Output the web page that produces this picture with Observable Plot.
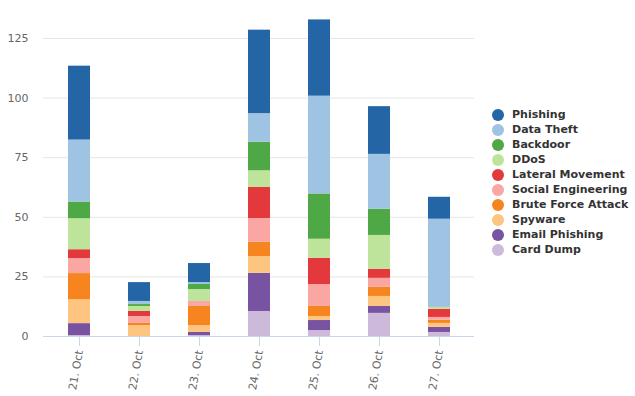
<!DOCTYPE html>
<html>
<head>
<meta charset="utf-8">
<script src="https://cdn.jsdelivr.net/npm/d3@7"></script>
<script src="https://cdn.jsdelivr.net/npm/@observablehq/plot@0.6"></script>
<style>
  html, body { margin: 0; padding: 0; background: #fff; }
  #wrap { position: relative; width: 635px; height: 396px; font-family: "DejaVu Sans", Verdana, sans-serif; }
  #legend { position: absolute; left: 492px; top: 107px; }
  .item { display: flex; align-items: center; height: 15px; font-weight: bold; font-size: 11px; color: #333; white-space: nowrap; }
  .sw { width: 12px; height: 12px; border-radius: 50%; margin-right: 8px; flex: none; }
</style>
</head>
<body>
<div id="wrap"><div id="legend"></div></div>
<script>
// Categories (x axis)
const dates = ["21. Oct", "22. Oct", "23. Oct", "24. Oct", "25. Oct", "26. Oct", "27. Oct"];
// Series names in legend order (top of stack first)
const seriesNames = ["Phishing", "Data Theft", "Backdoor", "DDoS", "Lateral Movement",
  "Social Engineering", "Brute Force Attack", "Spyware", "Email Phishing", "Card Dump"];
const seriesColors = ["#2465a5", "#9fc3e3", "#4ea845", "#bee39b", "#e4393c",
  "#faa7a3", "#f7851f", "#fdc580", "#7853a1", "#cdb9d9"];
// Values per series, one per date
const phishing          = [31, 7.9, 8, 35, 32, 20, 9.2];
const dataTheft         = [26, 1.3, 0.8, 12, 41, 23, 37];
const backdoor          = [7, 0.8, 2.1, 12, 19, 11, 0];
const ddos              = [13, 2.1, 5, 7, 8, 14.2, 0.8];
const lateralMovement   = [3.7, 2.1, 0, 13, 11, 3.8, 3.4];
const socialEngineering = [6.3, 2.9, 2.1, 10, 9.2, 3.8, 1.2];
const bruteForce        = [11, 0.9, 8, 6, 4.2, 3.8, 1.3];
const spyware           = [10, 4.6, 2.9, 7, 1.7, 4.2, 1.7];
const emailPhishing     = [5, 0, 1.3, 16, 4.2, 2.9, 2.1];
const cardDump          = [0.4, 0, 0.4, 10.5, 2.5, 9.7, 1.7];
const yTicks = [0, 25, 50, 75, 100, 125];

const seriesValues = [phishing, dataTheft, backdoor, ddos, lateralMovement,
  socialEngineering, bruteForce, spyware, emailPhishing, cardDump];

// Build rows bottom-of-stack first
const rows = [];
for (let s = seriesNames.length - 1; s >= 0; s--) {
  dates.forEach((d, i) => rows.push({date: d, series: seriesNames[s], value: seriesValues[s][i]}));
}

const chart = Plot.plot({
  width: 635,
  height: 396,
  marginLeft: 43,
  marginRight: 161,
  marginTop: 38,
  marginBottom: 60,
  style: {fontFamily: "'DejaVu Sans', Verdana, sans-serif", fontSize: "11px", background: "transparent", overflow: "visible"},
  x: {domain: dates, range: [46.75, 470.25], paddingInner: 0.636, paddingOuter: 0.318, label: null},
  y: {domain: [0, 125], label: null},
  color: {domain: seriesNames, range: seriesColors},
  marks: [
    Plot.ruleY(yTicks.filter(t => t > 0), {stroke: "#e6e6e6", strokeWidth: 1}),
    Plot.barY(rows, {x: "date", y: "value", fill: "series"}),
    Plot.ruleY([0], {stroke: "#ccd6eb", strokeWidth: 1}),
    Plot.axisY({ticks: yTicks, tickSize: 0, tickPadding: 15, fill: "#666", label: null}),
    Plot.axisX({tickSize: 10, stroke: "#ccd6eb", fill: "#666", tickRotate: -80, tickPadding: 4, label: null})
  ]
});
const wrap = document.getElementById("wrap");
chart.style.position = "absolute";
chart.style.left = "0";
chart.style.top = "0";
wrap.insertBefore(chart, wrap.firstChild);

const legend = document.getElementById("legend");
seriesNames.forEach((n, i) => {
  const it = document.createElement("div");
  it.className = "item";
  const sw = document.createElement("span");
  sw.className = "sw";
  sw.style.background = seriesColors[i];
  const tx = document.createElement("span");
  tx.textContent = n;
  it.appendChild(sw);
  it.appendChild(tx);
  legend.appendChild(it);
});
</script>
</body>
</html>
